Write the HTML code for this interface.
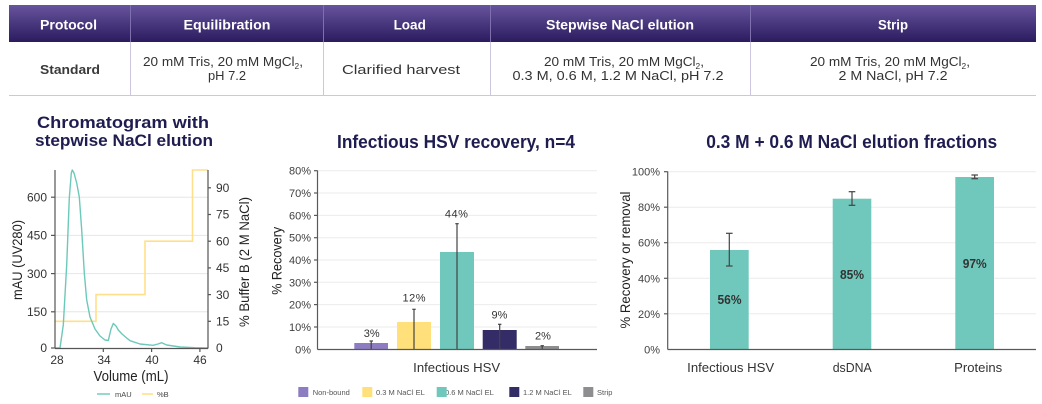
<!DOCTYPE html>
<html><head><meta charset="utf-8"><style>
html,body{margin:0;padding:0;background:#fff;}
svg{display:block;}
text{font-family:"Liberation Sans",sans-serif;}
</style></head><body>
<svg width="1042" height="404" viewBox="0 0 1042 404" xmlns="http://www.w3.org/2000/svg">
<defs>
<linearGradient id="hg" x1="0" y1="0" x2="0" y2="1">
<stop offset="0" stop-color="#67549e"/>
<stop offset="1" stop-color="#2b1b5e"/>
</linearGradient>
</defs>
<rect x="0" y="0" width="1042" height="404" fill="#fff"/>

<!-- TABLE -->
<rect x="9" y="5" width="1027" height="37" fill="url(#hg)"/>
<g stroke="#7e6fae" stroke-width="1">
<line x1="130.5" y1="5" x2="130.5" y2="42"/>
<line x1="323.5" y1="5" x2="323.5" y2="42"/>
<line x1="490.5" y1="5" x2="490.5" y2="42"/>
<line x1="750.5" y1="5" x2="750.5" y2="42"/>
</g>
<g stroke="#cdc6e0" stroke-width="1">
<line x1="130.5" y1="42" x2="130.5" y2="95"/>
<line x1="323.5" y1="42" x2="323.5" y2="95"/>
<line x1="490.5" y1="42" x2="490.5" y2="95"/>
<line x1="750.5" y1="42" x2="750.5" y2="95"/>
<line x1="9" y1="95.5" x2="1036" y2="95.5"/>
</g>
<g fill="#fff" font-weight="bold" font-size="13.5" text-anchor="middle">
<text x="68.5" y="29.5" textLength="57" lengthAdjust="spacingAndGlyphs">Protocol</text>
<text x="227" y="29.5" textLength="87" lengthAdjust="spacingAndGlyphs">Equilibration</text>
<text x="409.7" y="29.5">Load</text>
<text x="620" y="29.5" textLength="148" lengthAdjust="spacingAndGlyphs">Stepwise NaCl elution</text>
<text x="893" y="29.5" textLength="30" lengthAdjust="spacingAndGlyphs">Strip</text>
</g>
<g fill="#333" font-size="13" text-anchor="middle">
<text x="70" y="74" font-weight="bold" textLength="60" lengthAdjust="spacingAndGlyphs" fill="#3a3a3a">Standard</text>
<text x="223" y="66" textLength="160" lengthAdjust="spacingAndGlyphs">20 mM Tris, 20 mM MgCl<tspan dy="3" font-size="8">2</tspan><tspan dy="-3">,</tspan></text>
<text x="227" y="80" textLength="38" lengthAdjust="spacingAndGlyphs">pH 7.2</text>
<text x="401" y="74" textLength="118" lengthAdjust="spacingAndGlyphs">Clarified harvest</text>
<text x="624" y="66" textLength="160" lengthAdjust="spacingAndGlyphs">20 mM Tris, 20 mM MgCl<tspan dy="3" font-size="8">2</tspan><tspan dy="-3">,</tspan></text>
<text x="618" y="80" textLength="211" lengthAdjust="spacingAndGlyphs">0.3 M, 0.6 M, 1.2 M NaCl, pH 7.2</text>
<text x="890" y="66" textLength="160" lengthAdjust="spacingAndGlyphs">20 mM Tris, 20 mM MgCl<tspan dy="3" font-size="8">2</tspan><tspan dy="-3">,</tspan></text>
<text x="893" y="80" textLength="109" lengthAdjust="spacingAndGlyphs">2 M NaCl, pH 7.2</text>
</g>

<!-- CHART 1 -->
<g fill="#1f1c50" font-weight="bold" font-size="17" text-anchor="middle">
<text x="123" y="128" textLength="172" lengthAdjust="spacingAndGlyphs">Chromatogram with</text>
<text x="124" y="146" textLength="178" lengthAdjust="spacingAndGlyphs">stepwise NaCl elution</text>
</g>
<g stroke="#e6e6e6" stroke-width="1">
<line x1="55" y1="311.8" x2="208" y2="311.8"/>
<line x1="55" y1="273.6" x2="208" y2="273.6"/>
<line x1="55" y1="235.4" x2="208" y2="235.4"/>
<line x1="55" y1="197.2" x2="208" y2="197.2"/>
</g>
<polyline fill="none" stroke="#ffe08a" stroke-width="1.6" points="55,321.3 96,321.3 96,294.6 145,294.6 145,241.2 192.5,241.2 192.5,170 208,170"/>
<polyline fill="none" stroke="#6cc9ba" stroke-width="1.4" stroke-linejoin="round" points="55,348 60,348 63.3,325 66.7,265 69.3,198 71.3,173 72.3,170 74,173 76.7,183 79.3,197 81.7,230 84.3,273 86.7,300 90,317 95,329 100,336 105,340 108.3,340.5 111,329 113.3,323.5 116,326 118.3,330 122,334 126.7,338 130,340.7 140,344 153,345.3 158,344 161.7,342.7 166.7,345 180,347 195,347.7 208,348"/>
<g stroke="#555" stroke-width="1.2" fill="none">
<line x1="55" y1="170" x2="55" y2="348.5"/>
<line x1="208" y1="170" x2="208" y2="348.5"/>
<line x1="55" y1="348.5" x2="208" y2="348.5"/>
<line x1="51" y1="348" x2="55" y2="348"/><line x1="51" y1="311.8" x2="55" y2="311.8"/><line x1="51" y1="273.6" x2="55" y2="273.6"/><line x1="51" y1="235.4" x2="55" y2="235.4"/><line x1="51" y1="197.2" x2="55" y2="197.2"/>
<line x1="208" y1="321.3" x2="211" y2="321.3"/><line x1="208" y1="294.6" x2="211" y2="294.6"/><line x1="208" y1="267.9" x2="211" y2="267.9"/><line x1="208" y1="241.2" x2="211" y2="241.2"/><line x1="208" y1="214.5" x2="211" y2="214.5"/><line x1="208" y1="187.8" x2="211" y2="187.8"/>
<line x1="103.3" y1="348" x2="103.3" y2="352"/><line x1="151.6" y1="348" x2="151.6" y2="352"/><line x1="199.9" y1="348" x2="199.9" y2="352"/>
</g>
<g fill="#333" font-size="12" text-anchor="end">
<text x="47" y="352">0</text><text x="47" y="316">150</text><text x="47" y="277.8">300</text><text x="47" y="239.6">450</text><text x="47" y="201.4">600</text>
</g>
<g fill="#333" font-size="12">
<text x="216" y="352">0</text><text x="216" y="325.5">15</text><text x="216" y="298.8">30</text><text x="216" y="272.1">45</text><text x="216" y="245.4">60</text><text x="216" y="218.7">75</text><text x="216" y="192">90</text>
</g>
<g fill="#333" font-size="12" text-anchor="middle">
<text x="57" y="364">28</text><text x="104" y="364">34</text><text x="152" y="364">40</text><text x="200" y="364">46</text>
</g>
<text x="131" y="381" fill="#222" font-size="15" text-anchor="middle" textLength="75" lengthAdjust="spacingAndGlyphs">Volume (mL)</text>
<text transform="translate(22,260) rotate(-90)" fill="#222" font-size="14" text-anchor="middle" textLength="80" lengthAdjust="spacingAndGlyphs">mAU (UV280)</text>
<text transform="translate(249,262) rotate(-90)" fill="#222" font-size="14" text-anchor="middle" textLength="130" lengthAdjust="spacingAndGlyphs">% Buffer B (2 M NaCl)</text>
<line x1="97" y1="394" x2="110" y2="394" stroke="#6cc9ba" stroke-width="1.4"/>
<text x="115" y="397" font-size="7.5" fill="#444">mAU</text>
<line x1="142" y1="394" x2="153" y2="394" stroke="#ffe08a" stroke-width="1.6"/>
<text x="157" y="397" font-size="7.5" fill="#444">%B</text>

<!-- CHART 2 -->
<text x="456" y="148" fill="#1f1c50" font-weight="bold" font-size="18" text-anchor="middle" textLength="238" lengthAdjust="spacingAndGlyphs">Infectious HSV recovery, n=4</text>
<g stroke="#ebebeb" stroke-width="1">
<line x1="318" y1="327" x2="597" y2="327"/><line x1="318" y1="304.6" x2="597" y2="304.6"/><line x1="318" y1="282.3" x2="597" y2="282.3"/><line x1="318" y1="260" x2="597" y2="260"/><line x1="318" y1="237.7" x2="597" y2="237.7"/><line x1="318" y1="215.4" x2="597" y2="215.4"/><line x1="318" y1="193" x2="597" y2="193"/><line x1="318" y1="170.7" x2="597" y2="170.7"/>
</g>
<rect x="354.3" y="343" width="33.7" height="6.3" fill="#8e7cc3"/>
<rect x="397" y="322" width="34" height="27.3" fill="#ffe07a"/>
<rect x="440" y="252" width="34" height="97.3" fill="#6fc8bb"/>
<rect x="482.7" y="330" width="34" height="19.3" fill="#342c66"/>
<rect x="525.3" y="346" width="33.7" height="3.3" fill="#8e8e90"/>
<g stroke="#444" stroke-width="1.2">
<line x1="371.2" y1="341" x2="371.2" y2="349"/><line x1="369.5" y1="341" x2="373" y2="341"/>
<line x1="414" y1="309.3" x2="414" y2="349"/><line x1="412.3" y1="309.3" x2="415.7" y2="309.3"/>
<line x1="457" y1="223.7" x2="457" y2="349"/><line x1="455.3" y1="223.7" x2="458.7" y2="223.7"/>
<line x1="499.7" y1="324.3" x2="499.7" y2="349"/><line x1="498" y1="324.3" x2="501.4" y2="324.3"/>
<line x1="542.2" y1="345.7" x2="542.2" y2="349"/><line x1="540.5" y1="345.7" x2="543.9" y2="345.7"/>
</g>
<g stroke="#595959" stroke-width="1.2">
<line x1="317.5" y1="170.5" x2="317.5" y2="349.5"/>
<line x1="317.5" y1="349.5" x2="597" y2="349.5"/>
<line x1="314" y1="327" x2="317.5" y2="327"/><line x1="314" y1="304.6" x2="317.5" y2="304.6"/><line x1="314" y1="282.3" x2="317.5" y2="282.3"/><line x1="314" y1="260" x2="317.5" y2="260"/><line x1="314" y1="237.7" x2="317.5" y2="237.7"/><line x1="314" y1="215.4" x2="317.5" y2="215.4"/><line x1="314" y1="193" x2="317.5" y2="193"/><line x1="314" y1="170.7" x2="317.5" y2="170.7"/>
</g>
<g fill="#404040" font-size="11" text-anchor="end">
<text x="311" y="353.3">0%</text><text x="311" y="331">10%</text><text x="311" y="308.6">20%</text><text x="311" y="286.3">30%</text><text x="311" y="264">40%</text><text x="311" y="241.7">50%</text><text x="311" y="219.4">60%</text><text x="311" y="197">70%</text><text x="311" y="174.7">80%</text>
</g>
<g fill="#333" font-size="11" text-anchor="middle">
<text x="371.7" y="337">3%</text>
<text x="414.3" y="301.7" letter-spacing="0.5">12%</text>
<text x="456.7" y="217.7" letter-spacing="0.5">44%</text>
<text x="499.5" y="318.3">9%</text>
<text x="543" y="339.3">2%</text>
</g>
<text x="456.7" y="372" fill="#333" font-size="13" text-anchor="middle" textLength="87" lengthAdjust="spacingAndGlyphs">Infectious HSV</text>
<text transform="translate(281.5,260.8) rotate(-90)" fill="#222" font-size="14" text-anchor="middle" textLength="68" lengthAdjust="spacingAndGlyphs">% Recovery</text>
<rect x="298.3" y="387" width="10" height="10" fill="#8e7cc3"/>
<text x="312.7" y="395" font-size="7.5" fill="#555">Non-bound</text>
<rect x="362.3" y="387" width="10" height="10" fill="#ffe07a"/>
<text x="376" y="395" font-size="7.5" fill="#555">0.3 M NaCl EL</text>
<text x="445" y="395" font-size="7.5" fill="#555">0.6 M NaCl EL</text>
<rect x="436.7" y="387" width="10" height="10" fill="#6fc8bb"/>
<rect x="509.3" y="387" width="10" height="10" fill="#342c66"/>
<text x="523" y="395" font-size="7.5" fill="#555">1.2 M NaCl EL</text>
<rect x="583.3" y="387" width="10" height="10" fill="#8e8e90"/>
<text x="597" y="395" font-size="7.5" fill="#555">Strip</text>

<!-- CHART 3 -->
<text x="851.7" y="148" fill="#1f1c50" font-weight="bold" font-size="18" text-anchor="middle" textLength="291" lengthAdjust="spacingAndGlyphs">0.3 M + 0.6 M NaCl elution fractions</text>
<g stroke="#ebebeb" stroke-width="1">
<line x1="668" y1="313.8" x2="1036" y2="313.8"/><line x1="668" y1="278.3" x2="1036" y2="278.3"/><line x1="668" y1="242.7" x2="1036" y2="242.7"/><line x1="668" y1="207.2" x2="1036" y2="207.2"/><line x1="668" y1="171.7" x2="1036" y2="171.7"/>
</g>
<rect x="710" y="250" width="38.7" height="99.3" fill="#6fc8bb"/>
<rect x="832.7" y="198.7" width="38.6" height="150.6" fill="#6fc8bb"/>
<rect x="955.3" y="177" width="38.7" height="172.3" fill="#6fc8bb"/>
<g stroke="#444" stroke-width="1.2">
<line x1="729.3" y1="233.3" x2="729.3" y2="266"/><line x1="726" y1="233.3" x2="732.6" y2="233.3"/><line x1="726" y1="266" x2="732.6" y2="266"/>
<line x1="852" y1="191.7" x2="852" y2="205.3"/><line x1="848.7" y1="191.7" x2="855.3" y2="191.7"/><line x1="848.7" y1="205.3" x2="855.3" y2="205.3"/>
<line x1="974.7" y1="175" x2="974.7" y2="178.7"/><line x1="971.4" y1="175" x2="978" y2="175"/><line x1="971.4" y1="178.7" x2="978" y2="178.7"/>
</g>
<g stroke="#595959" stroke-width="1.2">
<line x1="667.7" y1="171.5" x2="667.7" y2="349.5"/>
<line x1="667.7" y1="349.5" x2="1036" y2="349.5"/>
<line x1="664" y1="313.8" x2="667.7" y2="313.8"/><line x1="664" y1="278.3" x2="667.7" y2="278.3"/><line x1="664" y1="242.7" x2="667.7" y2="242.7"/><line x1="664" y1="207.2" x2="667.7" y2="207.2"/><line x1="664" y1="171.7" x2="667.7" y2="171.7"/>
</g>
<g fill="#404040" font-size="11" text-anchor="end">
<text x="660" y="353.3">0%</text><text x="660" y="317.8">20%</text><text x="660" y="282.3">40%</text><text x="660" y="246.7">60%</text><text x="660" y="211.2">80%</text><text x="660" y="175.7">100%</text>
</g>
<g fill="#333" font-size="13" font-weight="bold" text-anchor="middle">
<text x="729.5" y="304" textLength="24" lengthAdjust="spacingAndGlyphs">56%</text>
<text x="852" y="279" textLength="24" lengthAdjust="spacingAndGlyphs">85%</text>
<text x="974.7" y="268" textLength="24" lengthAdjust="spacingAndGlyphs">97%</text>
</g>
<g fill="#333" font-size="13" text-anchor="middle">
<text x="730.7" y="372" textLength="87" lengthAdjust="spacingAndGlyphs">Infectious HSV</text>
<text x="852.2" y="372" textLength="39" lengthAdjust="spacingAndGlyphs">dsDNA</text>
<text x="978.2" y="372" textLength="48" lengthAdjust="spacingAndGlyphs">Proteins</text>
</g>
<text transform="translate(630,260) rotate(-90)" fill="#222" font-size="14" text-anchor="middle" textLength="137" lengthAdjust="spacingAndGlyphs">% Recovery or removal</text>
</svg>
</body></html>
